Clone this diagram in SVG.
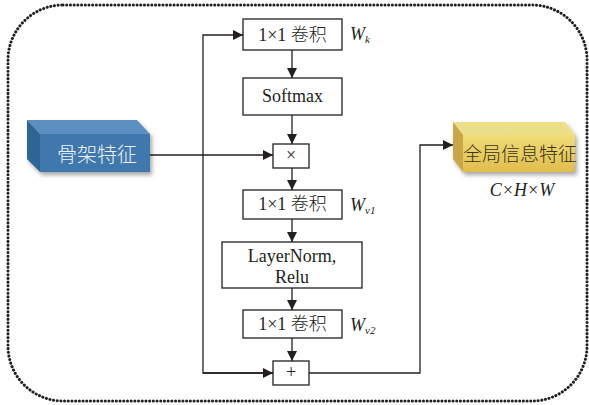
<svg xmlns="http://www.w3.org/2000/svg" width="589" height="405" viewBox="0 0 589 405">
<style>
.box{fill:#fff;stroke:#231f20;stroke-width:1.3}
.t{font-family:"Liberation Serif","Times New Roman","DejaVu Serif",serif;font-size:18px;fill:#231f20;text-anchor:middle}
.c{font-family:"Noto Sans CJK SC","Noto Sans CJK JP",sans-serif;font-weight:300}
.w{font-family:"Liberation Serif","Times New Roman","DejaVu Serif",serif;font-style:italic;font-size:18px;fill:#231f20}
.ws{font-size:11px}
.ln{fill:none;stroke:#231f20;stroke-width:1.3}
</style>
<defs>
<marker id="ah" viewBox="0 0 10 10" refX="10" refY="5" markerWidth="10" markerHeight="10" markerUnits="userSpaceOnUse" orient="auto">
<path d="M0,0 L10,5 L0,10 Z" fill="#231f20"/>
</marker>
<filter id="sh" x="-10%" y="-10%" width="130%" height="140%">
<feDropShadow dx="2" dy="3" stdDeviation="2" flood-color="#000" flood-opacity="0.35"/>
</filter>
<linearGradient id="yf" x1="0" y1="0" x2="0" y2="1">
<stop offset="0" stop-color="#f0dc78"/>
<stop offset="1" stop-color="#e0bd4c"/>
</linearGradient>
</defs>
<rect x="8" y="5" width="579" height="396" rx="55" ry="55" fill="none" stroke="#231f20" stroke-width="3" stroke-dasharray="0.1 3.6" stroke-linecap="round"/>

<g id="connectors">
<line class="ln" x1="292" y1="50" x2="292" y2="78" marker-end="url(#ah)"/>
<line class="ln" x1="292" y1="115" x2="292" y2="144" marker-end="url(#ah)"/>
<line class="ln" x1="292" y1="168" x2="292" y2="190" marker-end="url(#ah)"/>
<line class="ln" x1="292" y1="219" x2="292" y2="242" marker-end="url(#ah)"/>
<line class="ln" x1="292" y1="288" x2="292" y2="310" marker-end="url(#ah)"/>
<line class="ln" x1="292" y1="338" x2="292" y2="361" marker-end="url(#ah)"/>
<polyline class="ln" points="150,155 273,155" marker-end="url(#ah)"/>
<polyline class="ln" points="273,373 203,373 203,35 243,35" marker-end="url(#ah)"/>
<polyline class="ln" points="203,373 273,373" marker-end="url(#ah)"/>
<polyline class="ln" points="309,373 420,373 420,145 453,145" marker-end="url(#ah)"/>
</g>

<g id="skeleton">
<g filter="url(#sh)">
<polygon points="27,120 137,120 150,134 40,134" fill="#5b8fbf"/>
<polygon points="27,120 40,134 40,172 27,159" fill="#2f6596"/>
<rect x="40" y="134" width="110" height="38" fill="#3f78ad"/>
</g>
<text class="t c" x="97" y="162" style="fill:#eef3f8;font-size:20px">骨架特征</text>
</g>

<g id="global">
<g filter="url(#sh)">
<polygon points="453,122 565,122 575,135 463,135" fill="#ebdf8a"/>
<polygon points="453,122 463,135 463,172 453,159" fill="#c9a647"/>
<rect x="463" y="135" width="112" height="37" fill="url(#yf)"/>
</g>
<text class="t c" x="520" y="161" style="font-size:19px;fill:#3a3320">全局信息特征</text>
<text class="w" x="522" y="196" text-anchor="middle">C×H×W</text>
</g>

<g id="conv1">
<rect class="box" x="243" y="19" width="99" height="31"/>
<text class="t" x="292.5" y="41">1×1 <tspan class="c">卷积</tspan></text>
<text class="w" x="350" y="40">W<tspan class="ws" dy="3">k</tspan></text>
</g>

<g id="softmax">
<rect class="box" x="243" y="78" width="99" height="37"/>
<text class="t" x="292.5" y="102">Softmax</text>
</g>

<g id="mul">
<rect class="box" x="273" y="144" width="36" height="24"/>
<text class="t" x="291" y="161">×</text>
</g>

<g id="conv2">
<rect class="box" x="243" y="190" width="99" height="29"/>
<text class="t" x="292.5" y="210">1×1 <tspan class="c">卷积</tspan></text>
<text class="w" x="350" y="211">W<tspan class="ws" dy="3">v1</tspan></text>
</g>

<g id="layernorm">
<rect class="box" x="222" y="242" width="140" height="46"/>
<text class="t" x="292" y="262">LayerNorm,</text>
<text class="t" x="292" y="283">Relu</text>
</g>

<g id="conv3">
<rect class="box" x="243" y="310" width="99" height="28"/>
<text class="t" x="292.5" y="330">1×1 <tspan class="c">卷积</tspan></text>
<text class="w" x="350" y="331">W<tspan class="ws" dy="3">v2</tspan></text>
</g>

<g id="add">
<rect class="box" x="273" y="361" width="36" height="24"/>
<text class="t" x="291" y="378">+</text>
</g>
</svg>
